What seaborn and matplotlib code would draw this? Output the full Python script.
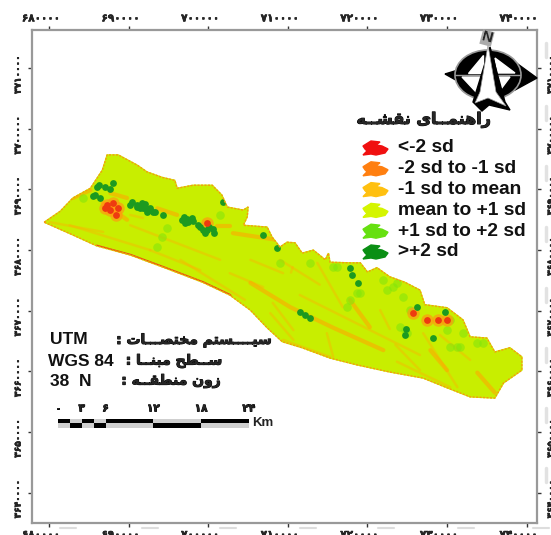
import matplotlib
matplotlib.use('Agg')

import matplotlib.pyplot as plt
from matplotlib.patches import Ellipse, Polygon
from matplotlib.patheffects import withStroke
from matplotlib.transforms import ScaledTranslation
import pandas as pd
import seaborn as sns

# === Map data, easting / northing in km (UTM 38N) ===
edge_east = [679.4, 681.4, 683.0, 685.2, 686.7, 687.3, 688.7, 691.1, 692.3, 694.2, 695.8, 696.1,
             698.1, 700.5, 701.7, 702.4, 704.4, 705.0, 704.9, 704.4, 707.4, 708.0, 709.0, 709.9,
             710.9, 711.8, 713.2, 714.7, 715.1, 715.3, 717.8, 719.1, 720.0, 721.2, 722.8, 724.7,
             726.6, 727.2, 730.0, 732.0, 732.9, 735.0, 736.0, 737.9, 739.4, 739.4, 737.1, 736.0,
             732.9, 730.0, 727.0, 722.8, 718.6, 715.3, 711.8, 709.3, 707.4, 705.3, 702.7, 699.3,
             694.3, 690.2, 686.0, 683.0]
edge_north = [3684.6, 3686.4, 3688.6, 3690.2, 3693.2, 3695.7, 3695.7, 3694.0, 3692.9, 3692.0, 3691.5, 3690.2,
              3690.7, 3690.7, 3689.1, 3687.1, 3686.6, 3687.1, 3685.5, 3684.1, 3683.8, 3682.2, 3680.5, 3681.3,
              3681.2, 3679.5, 3680.0, 3678.4, 3679.5, 3678.0, 3677.9, 3677.9, 3676.4, 3677.1, 3675.6, 3674.7,
              3673.4, 3671.0, 3670.5, 3668.5, 3665.7, 3665.5, 3663.2, 3663.9, 3662.4, 3660.2, 3658.1, 3655.6,
              3655.8, 3657.3, 3658.9, 3659.9, 3661.1, 3662.2, 3663.9, 3664.9, 3667.2, 3670.1, 3672.6, 3674.7,
              3677.2, 3679.2, 3680.7, 3682.5]

# broad orange ridges: id, east, north
ridge_id = [1, 1, 2, 2, 3, 3, 5, 5, 5, 5, 6, 6, 7, 7, 8, 8, 18, 18, 19, 19, 20, 20]
ridge_east = [687.7, 689.8, 693.6, 696.1, 703.1, 708.6, 705.3, 710.3, 715.7, 722.0,
              717.8, 720.3, 733.8, 736.0, 727.9, 730.0, 701.1, 702.7, 683.0, 685.2, 686.7, 689.8]
ridge_north = [3689.4, 3688.6, 3686.9, 3685.8, 3682.8, 3681.7, 3674.6, 3670.6, 3667.2, 3663.5,
               3671.8, 3667.3, 3659.8, 3656.5, 3663.5, 3660.2, 3684.0, 3684.0, 3688.6, 3689.9, 3687.9, 3685.0]

# thin gullies and ridges
gully_id = [1, 1, 2, 2, 3, 3, 4, 4, 5, 5, 6, 6, 7, 7, 8, 8, 9, 9, 10, 10, 11, 11, 12, 12, 13, 13,
            14, 14, 15, 15, 16, 16, 17, 17, 18, 18, 19, 19, 20, 20, 21, 21]
gully_east = [680.1, 686.8, 714.9, 715.7, 708.1, 710.7, 696.5, 704.6, 711.5, 726.6, 690.2, 701.5,
              692.7, 699.0, 723.5, 726.6, 729.1, 732.9, 709.0, 714.0, 690.2, 691.8, 682.6, 692.7,
              702.7, 706.9, 705.3, 709.4, 710.6, 710.4, 713.7, 716.9, 721.6, 722.8, 727.0, 731.3,
              723.7, 730.4, 709.4, 715.3, 707.8, 710.7]
gully_north = [3684.6, 3683.0, 3666.3, 3662.4, 3671.3, 3666.8, 3678.4, 3671.8, 3672.6, 3662.7, 3684.1, 3678.4,
               3680.0, 3676.7, 3664.4, 3660.2, 3666.0, 3661.9, 3678.4, 3674.3, 3685.8, 3685.3, 3684.1, 3680.0,
               3676.2, 3673.9, 3678.4, 3676.2, 3677.2, 3676.3, 3677.9, 3670.6, 3670.1, 3667.0, 3666.3, 3657.4,
               3661.6, 3657.4, 3665.2, 3662.4, 3669.6, 3665.2]

# low / high spots: class, east, north
red_east = [687.3, 688.0, 688.7, 687.7, 688.4, 687.0, 699.8, 725.7, 727.5, 728.9, 730.0]
red_north = [3687.4, 3687.7, 3686.9, 3686.6, 3685.8, 3686.9, 3684.5, 3669.6, 3668.5, 3668.5, 3668.5]
dark_east = [686.0, 687.0, 687.7, 685.8, 686.4, 688.0, 686.3, 685.5, 690.2, 691.1, 691.8, 692.7, 693.3, 692.1,
             690.4, 691.1, 691.7, 692.1, 692.7, 693.1, 691.4, 692.3, 694.3,
             696.7, 697.5, 698.1, 696.9, 697.3, 697.9, 697.1,
             699.0, 699.8, 700.6, 698.7, 699.3, 700.1, 700.7, 699.6,
             701.9, 706.9, 708.6, 717.8, 718.1, 718.8, 711.5, 712.1, 712.8, 726.2, 729.7, 728.2, 724.7, 724.9]
dark_north = [3690.4, 3690.4, 3690.0, 3689.1, 3688.6, 3691.0, 3690.8, 3688.9, 3687.4, 3687.1, 3686.9, 3686.6, 3686.3, 3687.6,
              3687.9, 3687.4, 3687.7, 3686.9, 3686.9, 3686.3, 3686.9, 3686.3, 3685.8,
              3685.0, 3684.6, 3684.8, 3685.4, 3685.1, 3685.3, 3684.5,
              3683.8, 3683.3, 3683.5, 3684.1, 3683.4, 3683.8, 3682.9, 3682.9,
              3687.9, 3682.5, 3680.3, 3677.1, 3675.9, 3674.6, 3669.8, 3669.3, 3668.8, 3670.6, 3669.8, 3665.5, 3666.0, 3667.0]
light_east = [693.6, 694.2, 694.8, 684.3, 701.5, 709.0, 712.8, 716.2, 717.4, 717.8, 718.7, 719.1, 715.7, 722.0, 722.5, 723.2,
              723.7, 724.5, 725.0, 724.1, 724.7, 725.4, 730.0, 730.4, 731.3, 731.6, 730.4, 732.0, 733.8, 734.5]
light_north = [3680.5, 3682.2, 3683.6, 3688.6, 3685.8, 3677.9, 3677.9, 3677.2, 3670.6, 3671.8, 3672.9, 3672.9, 3677.2, 3675.1, 3673.4, 3673.9,
               3674.6, 3672.3, 3666.3, 3667.3, 3666.8, 3670.1, 3666.8, 3664.0, 3664.0, 3664.0, 3668.5, 3666.3, 3664.7, 3664.7]

# red south-west margin
margin_east = [686.0, 690.2, 694.3, 699.3, 702.7]
margin_north = [3680.6, 3679.1, 3677.1, 3674.6, 3672.5]

# === Axis ticks and legend ===
tick_east = [680, 690, 700, 710, 720, 730, 740]
tick_north = [3640, 3650, 3660, 3670, 3680, 3690, 3700, 3710]
scale_km = [0, 1.5, 3, 4.5, 6, 12, 18, 24]
scale_labels = [0, 3, 6, 12, 18, 24]
legend_labels = ["<-2 sd", "-2 sd to -1 sd", "-1 sd to mean", "mean to +1 sd", "+1 sd to +2 sd", ">+2 sd"]
legend_colors = ["#f01010", "#ff7f10", "#ffc010", "#d4f500", "#66e010", "#0a8f14"]

# presentation forms: isolated, final, initial, medial
FORMS = {
    'ا': '\ufe8d\ufe8e', 'ر': '\ufead\ufeae', 'ز': '\ufeaf\ufeb0', 'و': '\ufeed\ufeee',
    'ه': '\ufee9\ufeea\ufeeb\ufeec', 'ن': '\ufee5\ufee6\ufee7\ufee8', 'م': '\ufee1\ufee2\ufee3\ufee4',
    'ی': '\ufbfc\ufbfd\ufbfe\ufbff', 'ق': '\ufed5\ufed6\ufed7\ufed8', 'ش': '\ufeb5\ufeb6\ufeb7\ufeb8',
    'س': '\ufeb1\ufeb2\ufeb3\ufeb4', 'ت': '\ufe95\ufe96\ufe97\ufe98', 'خ': '\ufea5\ufea6\ufea7\ufea8',
    'ص': '\ufeb9\ufeba\ufebb\ufebc', 'ط': '\ufec1\ufec2\ufec3\ufec4', 'ح': '\ufea1\ufea2\ufea3\ufea4',
    'ب': '\ufe8f\ufe90\ufe91\ufe92', 'ـ': 'ــــ',
}


def shape(text):
    # matplotlib has no shaping, so join the letters by hand and lay them out right to left
    out = []
    for i, ch in enumerate(text):
        if ch not in FORMS:
            out.append(ch)
            continue
        prev = text[i - 1] if i > 0 else ' '
        nxt = text[i + 1] if i + 1 < len(text) else ' '
        after = prev in FORMS and len(FORMS[prev]) == 4
        before = len(FORMS[ch]) == 4 and nxt in FORMS
        out.append(FORMS[ch][{(0, 0): 0, (1, 0): 1, (0, 1): 2, (1, 1): 3}[(int(after), int(before))]])
    return ''.join(reversed(out))


def fa_digits(value):
    return str(value).translate(str.maketrans('0123456789', '۰۱۲۳۴۵۶۷۸۹'))


heavy = [withStroke(linewidth=0.7, foreground="black")]

# === Figure ===
sns.set_theme(style="white")
plt.rcParams['font.family'] = ['Liberation Sans', 'DejaVu Sans']

fig = plt.figure(figsize=(5.51, 5.35), dpi=100)
ax = fig.add_axes([32 / 551, 12 / 535, 505 / 551, 493 / 535])
ax.set_xlim(677.86, 741.3)
ax.set_ylim(3635.0, 3716.3)

# study area
area = ax.fill(edge_east, edge_north, color="#c8ee00", zorder=1)[0]

gullies = pd.DataFrame({"id": gully_id, "east": gully_east, "north": gully_north})
sns.lineplot(data=gullies, x="east", y="north", units="id", estimator=None, sort=False,
             color="#ffb000", linewidth=1.8, alpha=0.4, ax=ax, zorder=2, legend=False)
ridges = pd.DataFrame({"id": ridge_id, "east": ridge_east, "north": ridge_north})
sns.lineplot(data=ridges, x="east", y="north", units="id", estimator=None, sort=False,
             color="#ffa800", linewidth=3, alpha=0.6, ax=ax, zorder=2, legend=False)

sns.scatterplot(x=light_east, y=light_north, color="#84e50c", s=38, alpha=0.6, linewidth=0, ax=ax, zorder=3)
sns.scatterplot(x=red_east, y=red_north, color="#ff9a10", s=80, alpha=0.7, linewidth=0, ax=ax, zorder=3)
sns.scatterplot(x=dark_east, y=dark_north, color="#1c9a20", s=24, linewidth=0, ax=ax, zorder=4)
sns.scatterplot(x=red_east, y=red_north, color="#ee3a10", s=24, linewidth=0, ax=ax, zorder=4)

sns.lineplot(x=margin_east, y=margin_north, sort=False, color="#e84a10", linewidth=2.6, ax=ax, zorder=5)
for artist in ax.lines + list(ax.collections):
    artist.set_clip_path(area)

# orange rim of the raster
ax.plot(edge_east + edge_east[:1], edge_north + edge_north[:1], color="#f59a10", lw=1, ls=(0, (1.5, 1)), zorder=6)

# scale bar
origin_east = 681.1
top_north = 3652.2
for i in range(len(scale_km) - 1):
    left = origin_east + scale_km[i]
    width = scale_km[i + 1] - scale_km[i]
    upper, lower = ("black", "#cfcfcf") if i % 2 == 0 else ("#cfcfcf", "black")
    ax.bar(left, 0.75, width=width, bottom=top_north - 0.75, align='edge', color=upper, linewidth=0, zorder=7)
    ax.bar(left, 0.75, width=width, bottom=top_north - 1.5, align='edge', color=lower, linewidth=0, zorder=7)
for km in scale_labels:
    ax.text(origin_east + km, top_north + 1.7, fa_digits(km), ha='center', va='center',
            fontsize=7.5, fontweight='bold', family=['DejaVu Sans'], path_effects=heavy)
ax.text(origin_east + 24.4, top_north - 0.75, "Km", ha='left', va='center', fontsize=9.5, fontweight='bold', color="#222222")

# frame and ticks
for side in ax.spines.values():
    side.set_color("#999999")
    side.set_linewidth(1.6)
ax.set_xlabel("")
ax.set_ylabel("")
ax.set_xticks(tick_east)
ax.set_yticks(tick_north)
ax.set_xticklabels([fa_digits(v * 1000) for v in tick_east], family=['DejaVu Sans'], fontweight='bold', fontsize=7.5)
ax.set_yticklabels([fa_digits(v * 1000) for v in tick_north], family=['DejaVu Sans'], fontweight='bold', fontsize=6.5,
                   rotation=90, va='center')
ax.tick_params(axis='both', which='both', length=2.8, width=1, color="#333333", top=True, right=True,
               labeltop=True, labelright=True, bottom=True, left=True)
ax.tick_params(axis='x', pad=2)
ax.tick_params(axis='y', pad=4)
# the labels sit off their ticks in the original
shift_x = ScaledTranslation(-8 / 100, 0, fig.dpi_scale_trans)
shift_y = ScaledTranslation(0, -6.5 / 100, fig.dpi_scale_trans)
for lab in ax.get_xticklabels():
    lab.set_transform(lab.get_transform() + shift_x)
    lab.set_path_effects([withStroke(linewidth=0.4, foreground="black")])
for lab in ax.get_yticklabels():
    lab.set_transform(lab.get_transform() + shift_y)
    lab.set_path_effects([withStroke(linewidth=0.4, foreground="black")])

# === Overlay in picture pixels for the map furniture ===
ov = fig.add_axes([0, 0, 1, 1], zorder=10)
ov.set_xlim(0, 551)
ov.set_ylim(535, 0)
ov.axis('off')
ov.patch.set_alpha(0)

# faint page marks around the frame
for x in (68, 150, 228, 308, 386, 466, 541):
    ov.plot([x - 8, x + 8], [528, 528], color="#dddddd", lw=1.5)
for y in (50, 113, 173, 234, 295, 355, 415, 475):
    ov.plot([546, 546], [y - 7, y + 7], color="#e2e2e2", lw=2.5)

# north arrow
ov.add_patch(Polygon([(445, 74), (537, 78), (515, 90), (470, 88)], color="black"))
ov.add_patch(Polygon([(458, 70), (515, 62), (537, 78), (445, 74)], color="black"))
ov.add_patch(Ellipse((488, 75), 66, 50, fc="black", ec="#999999", lw=1.2, zorder=2))
ov.add_patch(Polygon([(468, 73), (483, 73), (483, 55)], color="white", zorder=3))
ov.add_patch(Polygon([(495, 58), (515, 73), (498, 73)], color="white", zorder=3))
ov.add_patch(Polygon([(462, 77), (480, 77), (477, 93)], color="white", zorder=3))
ov.add_patch(Polygon([(498, 77), (510, 77), (498, 93)], color="white", zorder=3))
ov.plot([455, 520], [75, 75], color="#999999", lw=1, zorder=3)
ov.add_patch(Polygon([(490, 47), (505, 102), (510, 110), (489, 105), (482, 111), (473, 102)], color="black", zorder=4))
ov.add_patch(Polygon([(488, 45), (496, 92), (506, 106), (488, 98), (475, 103), (480, 92)], fc="white", ec="#999999", lw=0.5, zorder=5))
ov.text(487, 38, "N", ha='center', va='center', fontsize=11, fontweight='bold', rotation=-15, zorder=6,
        bbox=dict(fc="#aaaaaa", ec="none", pad=0.3))

# legend
ov.text(424, 120, shape("راهنمــای نقشــه"), ha='center', va='center', fontsize=11.5, fontweight='bold',
        family=['DejaVu Sans'], path_effects=heavy)
blob_x = [-13, -5, 4, 0, 6, 12, 9, 0, -5, -13, -9, -11]
blob_y = [-2, -7, -6, -3, -2, 1, 5, 7, 6, 7, 3, 1]
for i, (label, colour) in enumerate(zip(legend_labels, legend_colors)):
    y = 148 + i * 20.8
    ov.add_patch(Polygon([(376 + bx, y + by) for bx, by in zip(blob_x, blob_y)], color=colour))
    ov.text(398, y, label, ha='left', va='center', fontsize=13.8, fontweight='bold', color="#111111")

# coordinate system notes
for y, latin, lx, persian, px in [
    (340, "UTM", 50, "سیــــستم مختصـــات :", 194),
    (361, "WGS 84", 48, "ســطح مبنــا :", 174),
    (381, "38  N", 50, "زون منطقــه :", 171),
]:
    ov.text(lx, y, latin, ha='left', va='center', fontsize=12.5, fontweight='bold', color="#111111")
    ov.text(px, y, shape(persian), ha='center', va='center', fontsize=10, fontweight='bold',
            family=['DejaVu Sans'], path_effects=heavy)

fig.savefig("out.png", dpi=100)
